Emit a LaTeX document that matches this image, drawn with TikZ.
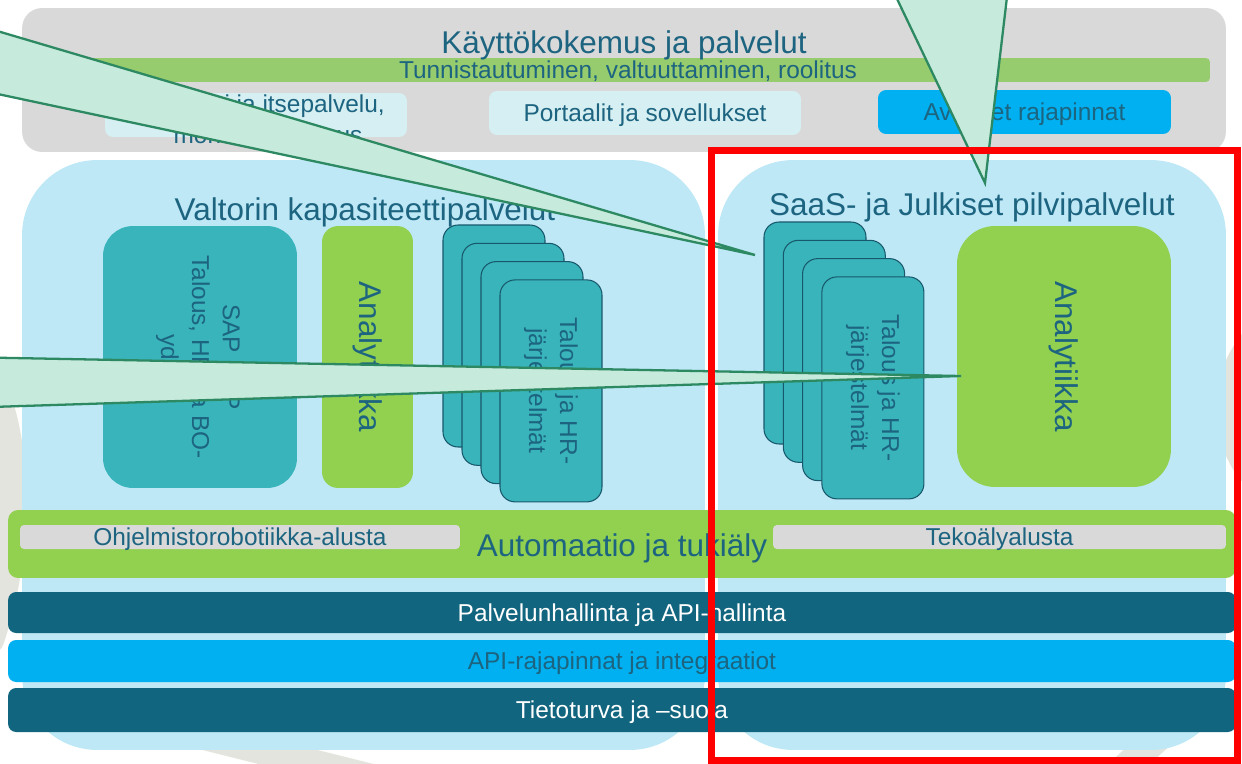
\documentclass[tikz,border=0pt]{standalone}
\usepackage{fontspec}
\setmainfont{Liberation Sans}
\definecolor{txt}{RGB}{28,100,128}
\definecolor{topgrey}{RGB}{217,217,217}
\definecolor{barGreen}{RGB}{151,204,110}
\definecolor{limeGreen}{RGB}{146,208,80}
\definecolor{paleCyan}{RGB}{214,239,242}
\definecolor{skyBlue}{RGB}{0,176,240}
\definecolor{bgBlue}{RGB}{190,232,246}
\definecolor{svcTeal}{RGB}{57,180,186}
\definecolor{deepTeal}{RGB}{18,101,126}
\definecolor{cardLine}{RGB}{24,88,108}
\definecolor{calloutFill}{RGB}{198,234,220}
\definecolor{calloutLine}{RGB}{44,137,98}
\definecolor{roadGrey}{RGB}{228,228,222}
\begin{document}
\begin{tikzpicture}[x=0.02cm,y=-0.02cm,
  panel/.style={inner sep=0pt, outer sep=0pt, draw=none},
  card/.style={panel, fill=svcTeal, draw=cardLine, line width=0.6pt,
    minimum width=2.04cm, minimum height=4.44cm, rounded corners=0.3cm},
  big/.style={inner sep=0pt, text=txt, font=\fontsize{17.9}{21}\selectfont},
  small/.style={inner sep=0pt, text=txt, font=\fontsize{13.9}{17.6}\selectfont},
  bar/.style={panel, minimum width=24.56cm, rounded corners=0.16cm},
  callout/.style={fill=calloutFill, draw=calloutLine, line width=1.3pt},
  road/.style={draw=roadGrey, line width=0.56cm, line cap=round}]
\path[use as bounding box, clip] (0,0) rectangle (1242,764);

% faint road pattern in the background
\draw[road] (-10,380) .. controls (22,450) and (18,560) .. (-10,640);
\draw[road] (180,730) -- (420,790);
\draw[road] (1100,790) -- (1200,700);
\draw[road] (1255,340) .. controls (1222,380) and (1222,430) .. (1250,470);

% user experience layer
\node[panel, fill=topgrey, minimum width=24.08cm, minimum height=2.88cm, rounded corners=0.4cm] (ux) at (624,80) {};
\node[panel, fill=barGreen, minimum width=23.4cm, minimum height=0.48cm, rounded corners=0.08cm] (idBar) at (625,70) {};
\node[big, anchor=base] (uxTitle) at (624,53) {Käyttökokemus ja palvelut};
\node[small, anchor=base] (idText) at (628,78) {Tunnistautuminen, valtuuttaminen, roolitus};
\node[panel, fill=paleCyan, minimum width=6.04cm, minimum height=0.88cm, rounded corners=0.16cm] (selfService) at (256,115) {};
\node[small, align=center] (selfText) at (268,119) {Asiointi ja itsepalvelu,\\monikanavaisuus};
\node[panel, fill=paleCyan, minimum width=6.24cm, minimum height=0.88cm, rounded corners=0.16cm] (portals) at (645,113) {};
\node[small] (portalText) at (645,115) {Portaalit ja sovellukset};
\node[panel, fill=skyBlue, minimum width=5.86cm, minimum height=0.88cm, rounded corners=0.16cm] (openApi) at (1024.5,112) {};
\node[small] (openApiText) at (1024.5,114) {Avoimet rajapinnat};

% service areas
\node[panel, fill=bgBlue, minimum width=13.66cm, minimum height=11.8cm, rounded corners=1.5cm] (capacity) at (363.5,455) {};
\node[panel, fill=bgBlue, minimum width=10.16cm, minimum height=11.8cm, rounded corners=1.5cm] (cloud) at (972,455) {};
\node[big] (capTitle) at (365,212) {Valtorin kapasiteettipalvelut};
\node[big] (cloudTitle) at (972,207) {SaaS- ja Julkiset pilvipalvelut};

% capacity services
\node[panel, fill=svcTeal, minimum width=3.88cm, minimum height=5.24cm, rounded corners=0.6cm] (sap) at (200,357) {};
\node[small, rotate=-90, align=center] (sapText) at (198,357) {SAP ERP\\Talous, HR- ja BO-\\ydin};
\node[panel, fill=limeGreen, minimum width=1.82cm, minimum height=5.24cm, rounded corners=0.32cm] (anaLeft) at (367.5,357) {};
\node[big, rotate=-90] (anaLeftText) at (anaLeft.center) {Analytiikka};
\foreach \i in {0,...,3}
  \node[card] (capCard\i) at ({494+19*\i},{336+18.3*\i}) {};
\node[small, rotate=-90, align=center] (capCardText) at (capCard3.center) {Talous ja HR-\\järjestelmät};

% cloud services
\foreach \i in {0,...,3}
  \node[card] (cloudCard\i) at ({815+19.3*\i},{333+18.3*\i}) {};
\node[small, rotate=-90, align=center] (cloudCardText) at (cloudCard3.center) {Talous ja HR-\\järjestelmät};
\node[panel, fill=limeGreen, minimum width=4.28cm, minimum height=5.22cm, rounded corners=0.76cm] (anaRight) at (1064,356.5) {};
\node[big, rotate=-90] (anaRightText) at (anaRight.center) {Analytiikka};

% automation layer
\node[panel, fill=limeGreen, minimum width=24.56cm, minimum height=1.36cm, rounded corners=0.2cm] (auto) at (622,544) {};
\node[big] (autoText) at (622,548) {Automaatio ja tukiäly};
\node[panel, fill=topgrey, minimum width=8.8cm, minimum height=0.48cm, rounded corners=0.08cm] (rpa) at (240,537) {};
\node[small] (rpaText) at (240,539) {Ohjelmistorobotiikka-alusta};
\node[panel, fill=topgrey, minimum width=9.06cm, minimum height=0.48cm, rounded corners=0.08cm] (ai) at (999.5,537) {};
\node[small] (aiText) at (999.5,539) {Tekoälyalusta};

% shared foundation bars
\node[bar, fill=deepTeal, minimum height=0.82cm] (mgmt) at (622,612.5) {};
\node[small, text=white] (mgmtText) at (622,615) {Palvelunhallinta ja API-hallinta};
\node[bar, fill=skyBlue, minimum height=0.84cm] (apis) at (622,661) {};
\node[small] (apisText) at (622,663.5) {API-rajapinnat ja integraatiot};
\node[bar, fill=deepTeal, minimum height=0.88cm] (sec) at (622,710) {};
\node[small, text=white] (secText) at (622,712.5) {Tietoturva ja –suoja};

% callouts
\coordinate (tipOne) at (755,255);
\coordinate (tipTwo) at (961,376);
\coordinate (tipThree) at (985,183);
\draw[callout] (-40,20) -- (tipOne) -- (-40,86) -- cycle;
\draw[callout] (-40,357) -- (tipTwo) -- (-40,408) -- cycle;
\draw[callout] (888,-20) -- (tipThree) -- (1009,-20) -- cycle;

% highlighted area
\node[panel, draw=red, line width=0.14cm, minimum width=10.54cm, minimum height=12.22cm] (focus) at (974.5,455.5) {};
\end{tikzpicture}
\end{document}
